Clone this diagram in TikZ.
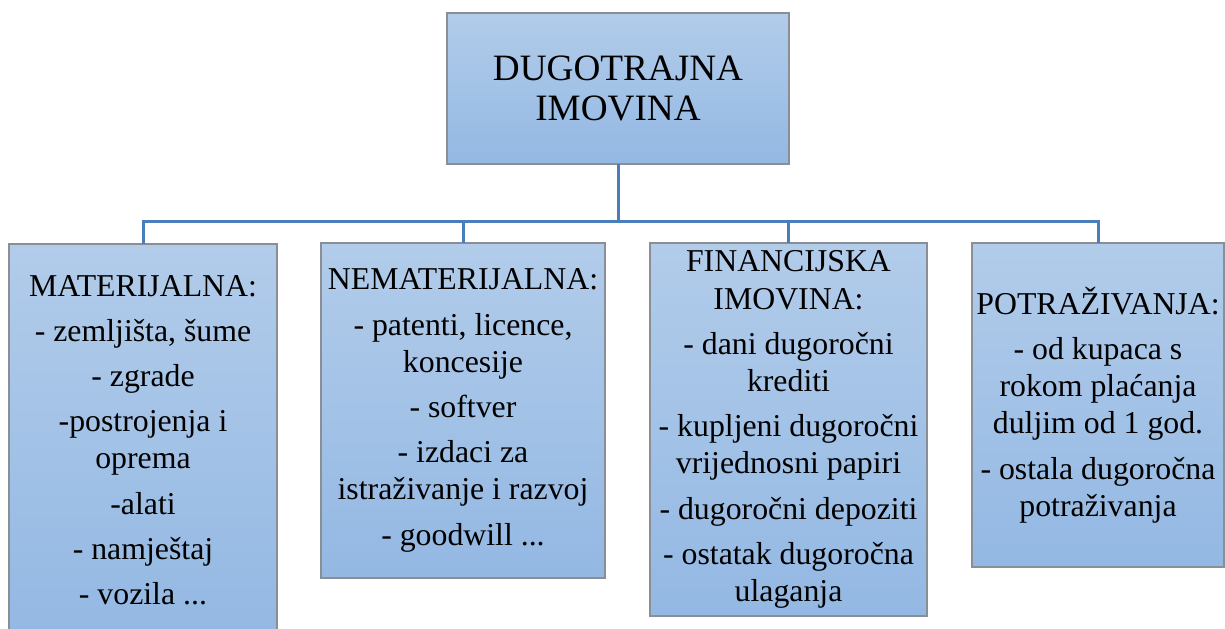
\documentclass[tikz,border=0pt]{standalone}
\usepackage{fontspec}
\setmainfont{Liberation Serif}
\definecolor{boxtop}{HTML}{B2CCEA}
\definecolor{boxbot}{HTML}{93B8E3}
\definecolor{boxline}{HTML}{8A8F96}
\definecolor{connline}{HTML}{4A7EBB}
\tikzset{
  box/.style={draw=boxline, line width=0.6pt, top color=boxtop, bottom color=boxbot,
    inner sep=0pt, outer sep=0pt, anchor=north, align=center,
    font=\fontsize{15.9}{18.6}\selectfont},
  topbox/.style={box, font=\fontsize{18.6}{19.8}\selectfont},
  conn/.style={draw=connline, line width=1.5pt}
}
\begin{document}
\begin{tikzpicture}[x=0.5pt, y=-0.5pt]
\useasboundingbox (0,0) rectangle (1225,628);
\node[topbox, minimum width=171pt, minimum height=75.5pt] (top) at (618,13)
  {DUGOTRAJNA\\IMOVINA};
\node[box, minimum width=134pt, minimum height=196pt] (mat) at (143,244)
  {MATERIJALNA:\\[4pt]- zemljišta, šume\\[4pt]- zgrade\\[4pt]-postrojenja i\\oprema\\[4pt]-alati\\[4pt]- namještaj\\[4pt]- vozila ...};
\node[box, minimum width=142pt, minimum height=167.5pt] (nem) at (463,243)
  {NEMATERIJALNA:\\[4pt]- patenti, licence,\\koncesije\\[4pt]- softver\\[4pt]- izdaci za\\istraživanje i razvoj\\[4pt]- goodwill ...};
\node[box, minimum width=138.5pt, minimum height=186.5pt] (fin) at (788.5,243)
  {FINANCIJSKA\\IMOVINA:\\[4pt]- dani dugoročni\\krediti\\[4pt]- kupljeni dugoročni\\vrijednosni papiri\\[4pt]- dugoročni depoziti\\[4pt]- ostatak dugoročna\\ulaganja};
\node[box, minimum width=126pt, minimum height=162pt] (pot) at (1098,243)
  {POTRAŽIVANJA:\\[4pt]- od kupaca s\\rokom plaćanja\\duljim od 1 god.\\[4pt]- ostala dugoročna\\potraživanja};
\coordinate (bus) at (618,221);
\draw[conn] (top.south) -- (bus);
\draw[conn] (bus) -| (mat.north);
\draw[conn] (bus) -| (nem.north);
\draw[conn] (bus) -| (fin.north);
\draw[conn] (bus) -| (pot.north);
\end{tikzpicture}
\end{document}
